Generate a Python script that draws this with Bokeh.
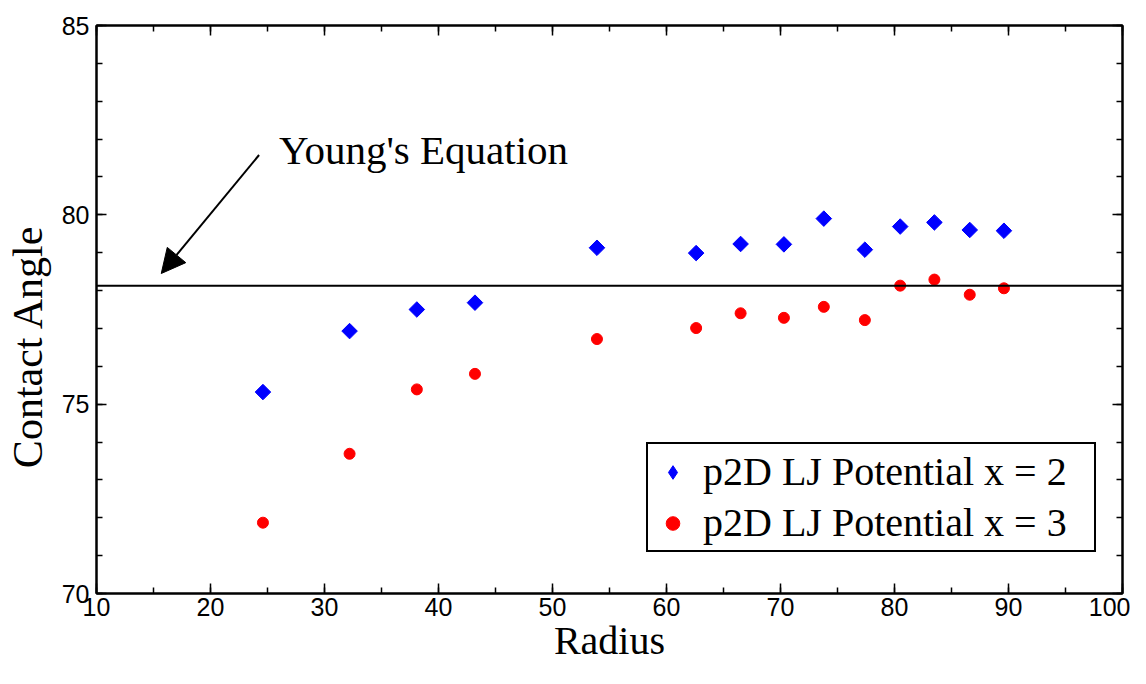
import math
from bokeh.plotting import figure
from bokeh.models import (Range1d, LinearAxis, SingleIntervalTicker, Span, Arrow,
                          NormalHead, Label, Legend, LegendItem, ColumnDataSource,
                          CustomJSTickFormatter)
from bokeh.embed import file_html
from bokeh.resources import INLINE

# ---- data ----
radius = [24.6, 32.2, 38.1, 43.2, 53.9, 62.6, 66.5, 70.3, 73.8, 77.4, 80.5, 83.5, 86.6, 89.6]
angle_x2 = [75.32, 76.93, 77.50, 77.68, 79.13, 78.99, 79.23, 79.22, 79.90, 79.08, 79.69, 79.80, 79.60, 79.58]
angle_x3 = [71.87, 73.69, 75.39, 75.80, 76.72, 77.01, 77.40, 77.28, 77.57, 77.22, 78.13, 78.29, 77.89, 78.06]
young_angle = 78.13
series_labels = ["p2D LJ Potential x = 2", "p2D LJ Potential x = 3"]
x_title = "Radius"
y_title = "Contact Angle"
annotation_text = "Young's Equation"

SERIF = "Liberation Serif"
SANS = "Liberation Sans"

p = figure(width=1130, height=668, output_backend="svg", toolbar_location=None,
           x_range=Range1d(10, 100), y_range=Range1d(70, 85),
           min_border_left=96, min_border_right=8, min_border_top=25, min_border_bottom=75,
           x_axis_type=None, y_axis_type=None)
p.xgrid.visible = False
p.ygrid.visible = False
p.outline_line_color = "black"
p.outline_line_width = 2
p.background_fill_color = "white"
p.border_fill_color = "white"
# an off-screen range used only so the legend can show an unrotated diamond
p.extra_y_ranges = {"legend_only": Range1d(0, 1)}


def style_axis(ax, show_labels, standoff):
    ax.axis_line_color = "black"
    ax.axis_line_width = 2
    ax.major_tick_line_color = "black"
    ax.major_tick_line_width = 1.5
    ax.minor_tick_line_color = "black"
    ax.minor_tick_line_width = 1.5
    ax.major_tick_in = 10
    ax.major_tick_out = 0
    ax.minor_tick_in = 6
    ax.minor_tick_out = 0
    if show_labels:
        ax.major_label_text_font = SANS
        ax.major_label_text_font_size = "25px"
        ax.major_label_text_color = "black"
        ax.major_label_standoff = standoff
        ax.axis_label_text_font = SERIF
        ax.axis_label_text_font_size = "40px"
        ax.axis_label_text_font_style = "normal"
        ax.axis_label_text_color = "black"
    else:
        ax.formatter = CustomJSTickFormatter(code="return ''")
        ax.major_label_text_font_size = "1px"
        ax.major_label_standoff = 0


xb = LinearAxis(ticker=SingleIntervalTicker(interval=10, num_minor_ticks=2), axis_label=x_title)
style_axis(xb, True, 4)
xb.axis_label_standoff = -1
p.add_layout(xb, "below")

xt = LinearAxis(ticker=SingleIntervalTicker(interval=10, num_minor_ticks=2))
style_axis(xt, False, 0)
p.add_layout(xt, "above")

yl = LinearAxis(ticker=SingleIntervalTicker(interval=5, num_minor_ticks=5),
                axis_label=y_title + "\u00a0" * 7)
style_axis(yl, True, 7)
yl.axis_label_text_font_size = "42px"
yl.axis_label_standoff = 8
p.add_layout(yl, "left")

yr = LinearAxis(ticker=SingleIntervalTicker(interval=5, num_minor_ticks=5))
style_axis(yr, False, 0)
p.add_layout(yr, "right")

# Young's equation line
p.add_layout(Span(location=young_angle, dimension="width", line_color="black", line_width=2))

src = ColumnDataSource(dict(r=radius, a2=angle_x2, a3=angle_x3))
r2 = p.scatter("r", "a2", source=src, marker="square", size=11, angle=math.pi / 4,
               fill_color="#0000FF", line_color="#0000FF")
r3 = p.scatter("r", "a3", source=src, marker="circle", size=11,
               fill_color="#FF0000", line_color="#FF0000")
# legend-only glyph: same data on an off-screen range, so nothing is drawn in the frame
r2_leg = p.scatter("r", "a2", source=src, marker="diamond", size=11,
                   y_range_name="legend_only",
                   fill_color="#0000FF", line_color="#0000FF")

legend = Legend(items=[LegendItem(label=series_labels[0], renderers=[r2_leg]),
                       LegendItem(label=series_labels[1], renderers=[r3])],
                location=(550, 41), margin=0, padding=4, spacing=4,
                glyph_width=41, glyph_height=34, label_standoff=10, label_width=387,
                label_text_font=SERIF, label_text_font_size="40px", label_text_color="black",
                border_line_color="black", border_line_width=2, border_line_alpha=1.0,
                background_fill_color="white", background_fill_alpha=1.0)
p.add_layout(legend, "center")

# annotation arrow & text
p.add_layout(Arrow(end=NormalHead(size=24, fill_color="black", line_color="black", line_width=1),
                   x_start=24.26, y_start=81.58, x_end=15.68, y_end=78.45,
                   line_color="black", line_width=2))
p.add_layout(Label(x=26.0, y=81.70, text=annotation_text, text_font=SERIF,
                   text_font_size="41px", text_color="black", text_baseline="alphabetic",
                   text_align="left"))

open("out.html", "w").write(file_html(p, INLINE))
